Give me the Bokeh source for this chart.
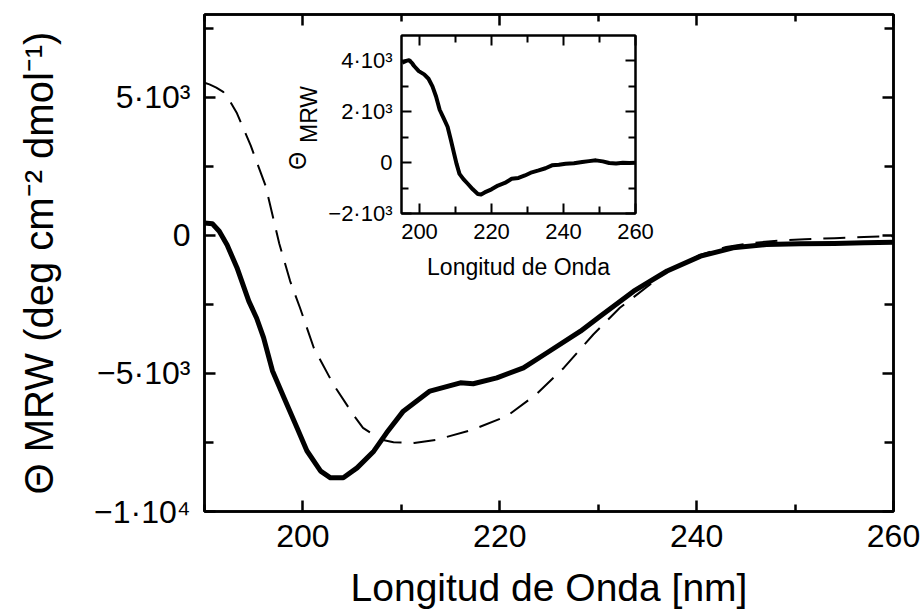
from bokeh.plotting import figure
from bokeh.models import FixedTicker, LinearAxis, Range1d, Label, GridBox, Spacer
from bokeh.embed import file_html
from bokeh.resources import INLINE
import math

FONT = "Liberation Sans"

# ---- main chart data (wavelength nm, Theta MRW) ----
wl_solid = [190.0, 190.8, 191.5, 192.3, 193.3, 194.5, 195.3, 196.0, 196.9, 198.1,
            199.4, 200.4, 201.8, 202.8, 204.1, 205.5, 207.2, 208.5, 210.2, 212.9,
            216.0, 217.3, 219.7, 222.4, 224.8, 228.2, 230.2, 233.6, 237.0, 240.4,
            243.7, 247.1, 250.5, 254.0, 257.0, 260.0]
mrw_solid = [450, 420, 150, -350, -1170, -2380, -3000, -3700, -4900, -5900,
             -6970, -7800, -8540, -8780, -8780, -8420, -7815, -7150, -6365, -5640,
             -5340, -5375, -5160, -4800, -4250, -3470, -2925, -2020, -1290, -750,
             -450, -330, -300, -290, -270, -250]

wl_dash = [190.0, 190.5, 191.2, 191.9, 192.6, 193.3, 194.7, 196.2, 197.6, 198.7,
           199.7, 201.1, 203.1, 205.1, 206.1, 207.9, 209.2, 211.3, 213.6, 217.3,
           220.7, 223.7, 226.5, 229.5, 232.2, 235.0, 237.0, 240.4, 243.0, 245.5,
           248.5, 251.0, 254.0, 257.0, 260.0]
mrw_dash = [5530, 5470, 5350, 5200, 4850, 4420, 3250, 1800, -300, -1655,
            -2620, -4070, -5400, -6485, -6970, -7390, -7490, -7515, -7400, -7030,
            -6550, -5760, -4800, -3590, -2620, -1850, -1290, -700, -420, -280,
            -180, -140, -100, -60, -30]

# ---- inset data ----
wl_inset = [195.2, 196.3, 197.1, 198.0, 198.5, 199.8, 201.3, 202.5, 203.6, 204.6,
            205.6, 206.7, 207.8, 208.7, 209.6, 210.3, 211.1, 212.2, 213.4, 214.8,
            216.2, 217.1, 218.1, 220.0, 221.8, 223.7, 225.6, 227.5, 229.3, 231.2,
            233.1, 235.0, 236.8, 238.7, 240.6, 242.9, 245.2, 247.1, 249.0, 250.9,
            252.7, 254.6, 256.5, 258.3, 260.0]
mrw_inset = [3930, 4000, 4030, 3900, 3800, 3600, 3470, 3300, 3000, 2600,
             2080, 1750, 1410, 900, 360, -50, -440, -650, -830, -1050,
             -1230, -1250, -1170, -1050, -900, -800, -635, -600, -505, -380,
             -305, -220, -107, -80, -40, -20, 25, 60, 90, 50,
             -15, -30, 0, -10, 0]

main_x_ticks = [200, 220, 240, 260]
main_x_minor = [190, 210, 230, 250]
main_y_ticks = [-10000, -5000, 0, 5000]
main_y_minor = [-7500, -2500, 2500, 7500]
main_y_labels = ["\u22121\u00b710\u2074", "\u22125\u00b710\u00b3", "0", "5\u00b710\u00b3"]

inset_x_ticks = [200, 220, 240, 260]
inset_x_minor = [210, 230, 250]
inset_y_ticks = [-2000, 0, 2000, 4000]
inset_y_minor = [-1000, 1000, 3000]
inset_y_labels = ["\u22122\u00b710\u00b3", "0", "2\u00b710\u00b3", "4\u00b710\u00b3"]

W, H = 922, 614
# inset box on the page
IX, IY, IW, IH = 280, 20, 380, 270


def style_axis(ax, ticks, minor, tick_len, minor_len, lw, font_size, standoff,
               overrides=None, hide_labels=False):
    ax.ticker = FixedTicker(ticks=ticks, minor_ticks=minor)
    ax.major_tick_in = tick_len
    ax.major_tick_out = 0
    ax.minor_tick_in = minor_len
    ax.minor_tick_out = 0
    ax.axis_line_color = "black"
    ax.axis_line_width = lw
    ax.major_tick_line_color = "black"
    ax.major_tick_line_width = lw
    ax.minor_tick_line_color = "black"
    ax.minor_tick_line_width = lw
    ax.major_label_text_font = FONT
    ax.major_label_text_color = "black"
    ax.major_label_standoff = standoff
    ax.axis_label_text_font = FONT
    ax.axis_label_text_font_style = "normal"
    ax.axis_label_text_color = "black"
    if overrides:
        ax.major_label_overrides = overrides
    if hide_labels:
        ax.major_label_text_font_size = "0px"
        ax.major_label_standoff = 0
        ax.major_label_text_color = None
    else:
        ax.major_label_text_font_size = font_size


# ---------------- main figure ----------------
p = figure(width=W, height=H, x_range=Range1d(190, 260), y_range=Range1d(-10000, 8000),
           output_backend="svg", toolbar_location=None,
           min_border_left=204, min_border_right=29, min_border_top=14, min_border_bottom=103,
           x_axis_label="Longitud de Onda [nm]",
           y_axis_label="\u0398 MRW (deg cm\u207b\u00b2 dmol\u207b\u00b9)",
           background_fill_color="white", border_fill_color="white")
p.xgrid.visible = False
p.ygrid.visible = False
p.outline_line_color = "black"
p.outline_line_width = 2.5

style_axis(p.xaxis[0], main_x_ticks, main_x_minor, 11, 7, 2.5, "32px", 13)
style_axis(p.yaxis[0], main_y_ticks, main_y_minor, 11, 9, 2.5, "32px", 14,
           overrides=dict(zip(main_y_ticks, main_y_labels)))
p.xaxis[0].axis_label_text_font_size = "39px"
p.xaxis[0].axis_label_standoff = 16
p.yaxis[0].axis_label_text_font_size = "40px"
p.yaxis[0].axis_label_standoff = 30

top_ax = LinearAxis()
style_axis(top_ax, main_x_ticks, main_x_minor, 11, 7, 2.5, "32px", 0, hide_labels=True)
p.add_layout(top_ax, "above")
right_ax = LinearAxis()
style_axis(right_ax, main_y_ticks, main_y_minor, 11, 9, 2.5, "32px", 0, hide_labels=True)
p.add_layout(right_ax, "right")

p.line(wl_dash, mrw_dash, line_color="black", line_width=2, line_dash="22 12")
p.line(wl_solid, mrw_solid, line_color="black", line_width=5, line_join="round")

# inset y-axis title (Theta with subscript MRW), placed in the main plot area
p.add_layout(Label(x=199.45, y=2700, text="\u0398", angle=math.pi / 2,
                   text_font=FONT, text_font_size="23px", text_color="black",
                   text_align="center", text_baseline="middle"))
p.add_layout(Label(x=200.6, y=4380, text="MRW", angle=math.pi / 2,
                   text_font=FONT, text_font_size="23px", text_color="black",
                   text_align="center", text_baseline="middle"))

# ---------------- inset figure (overlaid, transparent) ----------------
# inset frame on page: left 401, right 635, top 35, bottom 213
q = figure(width=IW, height=IH, x_range=Range1d(195, 260), y_range=Range1d(-2000, 5000),
           output_backend="svg", toolbar_location=None,
           min_border_left=401 - IX, min_border_right=IX + IW - 635,
           min_border_top=35 - IY, min_border_bottom=IY + IH - 213,
           x_axis_label="Longitud de Onda",
           background_fill_color=None, border_fill_color=None)
q.xgrid.visible = False
q.ygrid.visible = False
q.outline_line_color = "black"
q.outline_line_width = 2

style_axis(q.xaxis[0], inset_x_ticks, inset_x_minor, 10, 7, 2, "22px", 10)
style_axis(q.yaxis[0], inset_y_ticks, inset_y_minor, 10, 7, 2, "22px", 9,
           overrides=dict(zip(inset_y_ticks, inset_y_labels)))
q.xaxis[0].axis_label_text_font_size = "23px"
q.xaxis[0].axis_label_standoff = 12

q_top = LinearAxis()
style_axis(q_top, inset_x_ticks, inset_x_minor, 10, 7, 2, "22px", 0, hide_labels=True)
q.add_layout(q_top, "above")
q_right = LinearAxis()
style_axis(q_right, inset_y_ticks, inset_y_minor, 10, 7, 2, "22px", 0, hide_labels=True)
q.add_layout(q_right, "right")

q.line(wl_inset, mrw_inset, line_color="black", line_width=4, line_join="round")

layout = GridBox(children=[
    (p, 0, 0, 3, 3),
    (Spacer(width=IX, height=IY), 0, 0),
    (q, 1, 1),
    (Spacer(width=W - IX - IW, height=H - IY - IH), 2, 2),
], width=W, height=H)

open("out.html", "w").write(file_html(layout, INLINE))
